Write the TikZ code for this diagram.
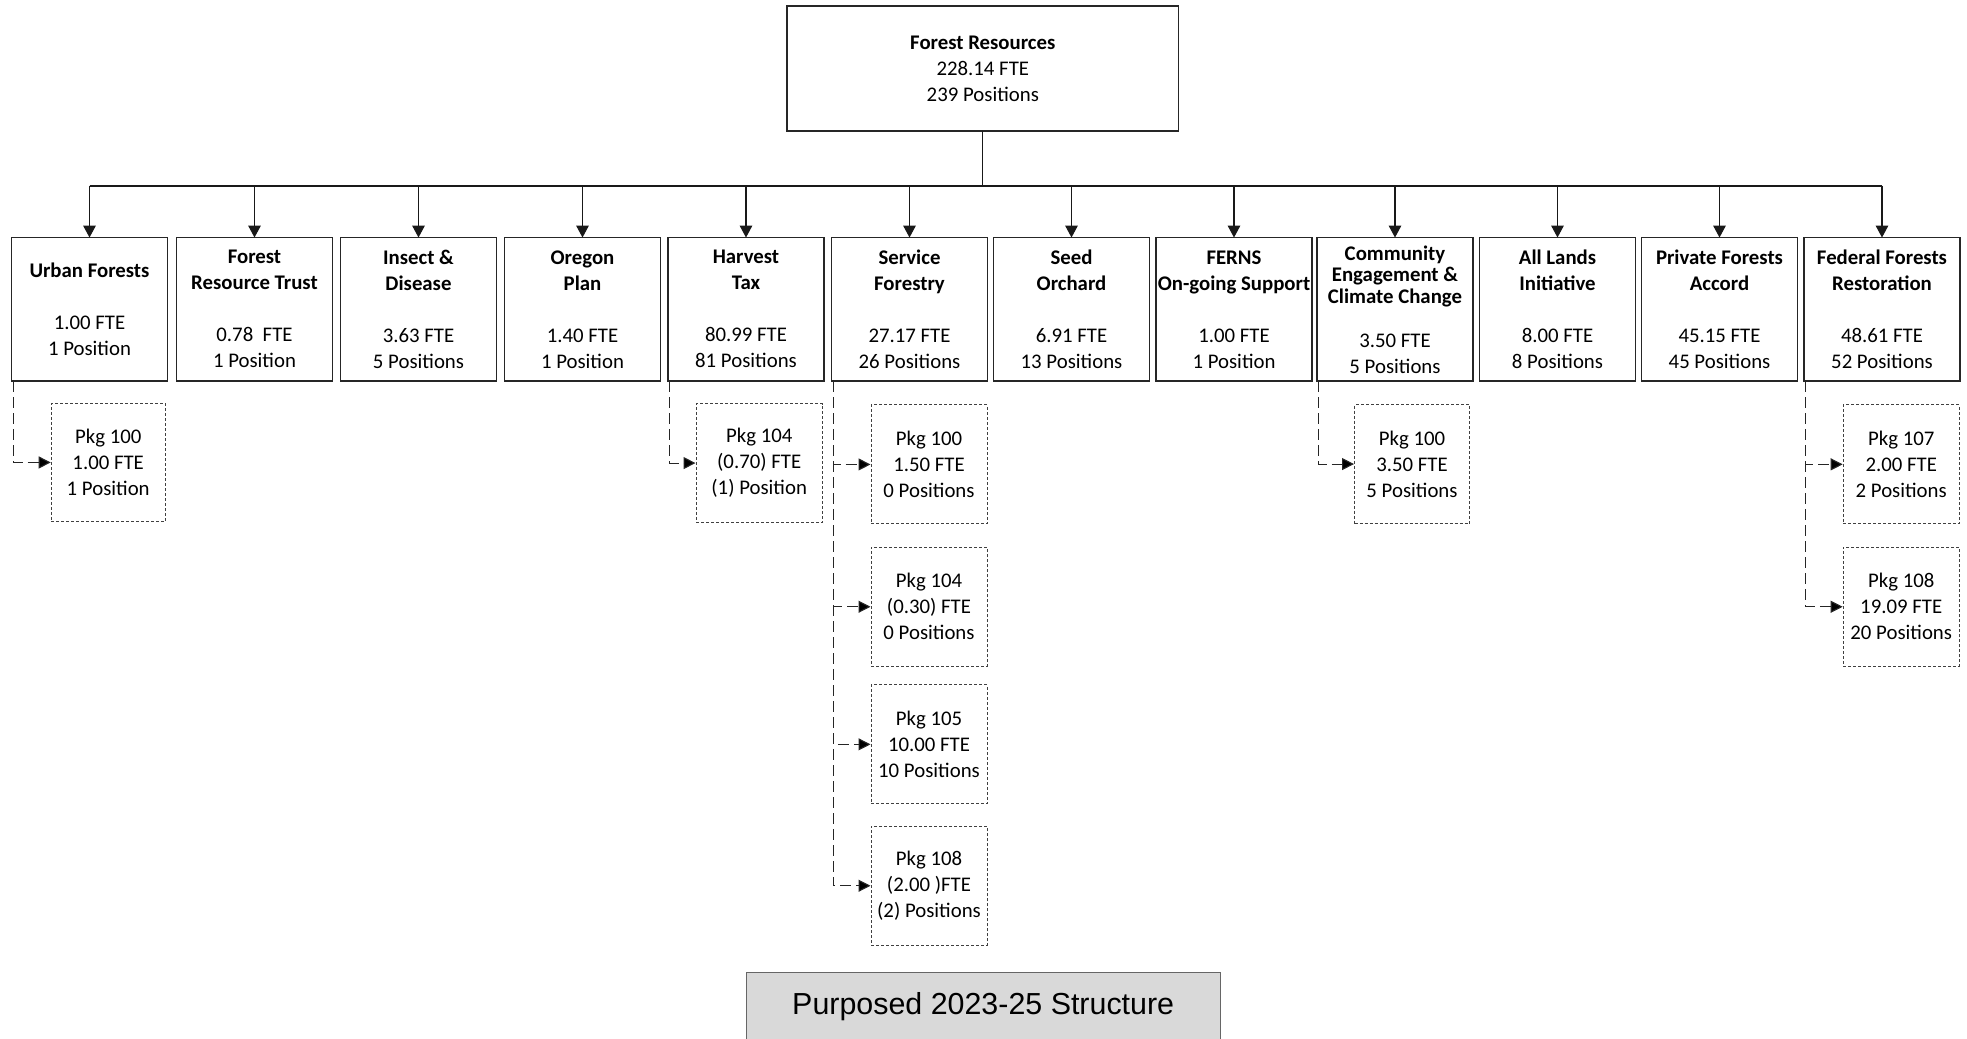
\documentclass[tikz,border=0pt]{standalone}
\usepackage{fontspec}
\setmainfont{Carlito}
\newfontfamily\capfont{Liberation Sans}
\usetikzlibrary{arrows.meta,positioning}

\tikzset{
  progbox/.style={draw=black!85, line width=0.7pt, minimum width=78pt, minimum height=71.75pt,
    inner xsep=0pt, inner ysep=1pt, outer sep=0pt, align=center, font=\fontsize{10.4}{13}\selectfont},
  rootbox/.style={progbox, minimum width=195.75pt, minimum height=62.5pt},
  pkgbox/.style={draw=black!75, line width=0.5pt, dash pattern=on 1.5pt off 1pt,
    minimum width=58pt, minimum height=59.5pt, inner sep=0.5pt, align=center,
    font=\fontsize{10.4}{13}\selectfont},
  childarrow/.style={draw=black!90, line width=0.6pt, -{Triangle[length=6pt,width=6.3pt]}},
  pkglink/.style={draw=black!85, line width=0.55pt, dash pattern=on 5.5pt off 2.5pt,
    -{Triangle[length=6pt,width=6pt,fill=black]}},
  titlebox/.style={draw=black!60, fill=black!15, line width=0.5pt, minimum width=236.8pt,
    minimum height=34pt, font=\capfont\fontsize{15.2}{18}\selectfont}
}

\begin{document}
\begin{tikzpicture}[x=0.5pt,y=-0.5pt]
    \useasboundingbox (0,0) rectangle (1967,1039);

    \node[rootbox] (top) at (982.8,68.5)
      {\textbf{Forest Resources}\\228.14 FTE\\239 Positions};
    \coordinate (bus) at ([yshift=-27.35pt]top.south);

    % programs
    \node[progbox] (urban) at (89.5,309.3)
      {\textbf{Urban Forests}\\[13pt]1.00 FTE\\1 Position};
    \node[progbox] [right=4.5pt of urban]     (frtrust)
      {\textbf{Forest}\\\textbf{Resource Trust}\\[13pt]0.78\ \ FTE\\1 Position};
    \node[progbox] [right=4pt of frtrust]     (insect)
      {\textbf{Insect \&}\\\textbf{Disease}\\[13pt]3.63 FTE\\5 Positions};
    \node[progbox] [right=4pt of insect]      (oregon)
      {\textbf{Oregon}\\\textbf{Plan}\\[13pt]1.40 FTE\\1 Position};
    \node[progbox] [right=3.75pt of oregon]   (harvest)
      {\textbf{Harvest}\\\textbf{Tax}\\[13pt]80.99 FTE\\81 Positions};
    \node[progbox] [right=3.75pt of harvest]  (service)
      {\textbf{Service}\\\textbf{Forestry}\\[13pt]27.17 FTE\\26 Positions};
    \node[progbox] [right=3pt of service]     (seed)
      {\textbf{Seed}\\\textbf{Orchard}\\[13pt]6.91 FTE\\13 Positions};
    \node[progbox] [right=3.25pt of seed]     (ferns)
      {\textbf{FERNS}\\\textbf{On-going Support}\\[13pt]1.00 FTE\\1 Position};
    \node[progbox] [right=2.5pt of ferns]     (community)
      {\textbf{Community}\\[-2.25pt]\textbf{Engagement \&}\\[-2.25pt]\textbf{Climate Change}\\[9pt]3.50 FTE\\5 Positions};
    \node[progbox] [right=3.25pt of community] (alllands)
      {\textbf{All Lands}\\\textbf{Initiative}\\[13pt]8.00 FTE\\8 Positions};
    \node[progbox] [right=3pt of alllands]    (private)
      {\textbf{Private Forests}\\\textbf{Accord}\\[13pt]45.15 FTE\\45 Positions};
    \node[progbox] [right=3.25pt of private]  (federal)
      {\textbf{Federal Forests}\\\textbf{Restoration}\\[13pt]48.61 FTE\\52 Positions};

    % packages
    \node[pkgbox, minimum width=57pt, minimum height=59.2pt]
      [below right=10.85pt and 19.6pt of urban.south west] (urbanpkg)
      {Pkg 100\\1.00 FTE\\1 Position};
    \node[pkgbox, minimum width=63.2pt]
      [below right=11pt and 13.75pt of harvest.south west] (harvestpkg)
      {Pkg 104\\(0.70) FTE\\(1) Position};
    \node[pkgbox] [below right=11.7pt and 19.5pt of service.south west] (svc100)
      {Pkg 100\\1.50 FTE\\0 Positions};
    \node[pkgbox] [below=11.15pt of svc100] (svc104)
      {Pkg 104\\(0.30) FTE\\0 Positions};
    \node[pkgbox] [below=8.8pt of svc104]   (svc105)
      {Pkg 105\\10.00 FTE\\10 Positions};
    \node[pkgbox] [below=10.7pt of svc105]  (svc108)
      {Pkg 108\\(2.00 )FTE\\(2) Positions};
    \node[pkgbox, minimum width=57.5pt]
      [below right=11.5pt and 18.5pt of community.south west] (commpkg)
      {Pkg 100\\3.50 FTE\\5 Positions};
    \node[pkgbox] [below right=11.65pt and 19.35pt of federal.south west] (fed107)
      {Pkg 107\\2.00 FTE\\2 Positions};
    \node[pkgbox] [below=11.2pt of fed107]  (fed108)
      {Pkg 108\\19.09 FTE\\20 Positions};

    \node[titlebox] (title) at (983.2,1006.7) {Purposed 2023-25 Structure};

    % tree
    \draw[line width=0.6pt, black!90] (top) -- (bus);
    \draw[line width=1pt, black!90] (bus -| urban) -- (bus -| federal);
    \foreach \prog in {urban,frtrust,insect,oregon,harvest,service,
                       seed,ferns,community,alllands,private,federal}
      \draw[childarrow] (bus -| \prog) -- (\prog);

    \draw[pkglink] ([xshift=0.8pt]urban.south west) |- (urbanpkg.west);
    \draw[pkglink] ([xshift=0.8pt]harvest.south west) |- (harvestpkg.west);
    \foreach \pkg in {svc100,svc104,svc105,svc108}
      \draw[pkglink] ([xshift=0.8pt]service.south west) |- (\pkg.west);
    \draw[pkglink] ([xshift=0.8pt]community.south west) |- (commpkg.west);
    \draw[pkglink] ([xshift=0.8pt]federal.south west) |- (fed107.west);
    \draw[pkglink] ([xshift=0.8pt]federal.south west) |- (fed108.west);
\end{tikzpicture}
\end{document}
